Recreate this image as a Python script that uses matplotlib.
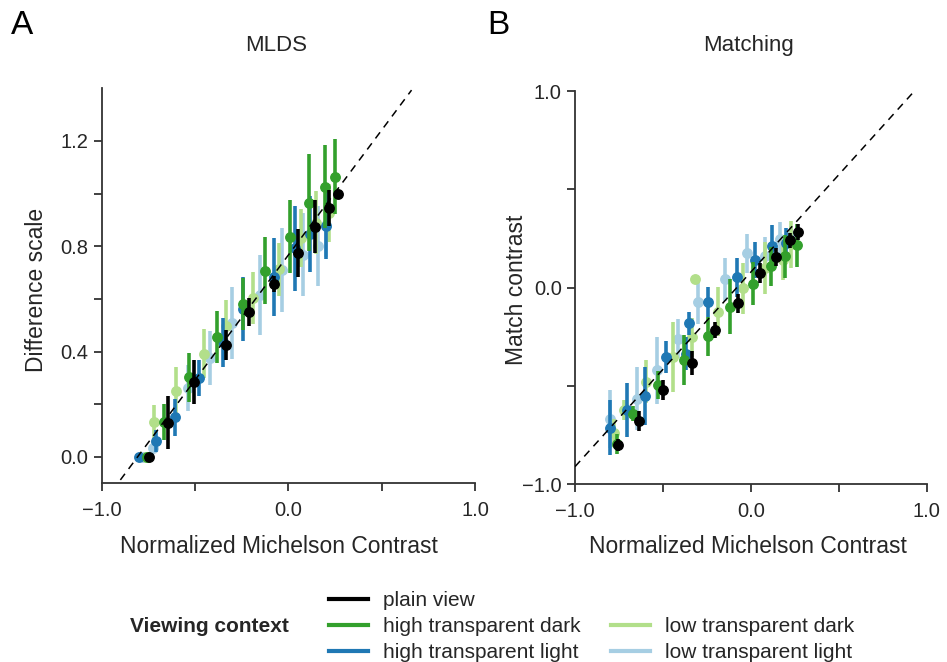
import numpy as np
import matplotlib.pyplot as plt
from matplotlib.lines import Line2D

plt.rcParams['font.family'] = ['Liberation Sans', 'DejaVu Sans']

# series names / colours
names = ['plain view', 'high transparent dark', 'high transparent light',
         'low transparent dark', 'low transparent light']
colors = ['#000000', '#33a02c', '#1f78b4', '#b2df8a', '#a6cee3']

# --- panel A: MLDS ---
a_x = {
    'plain view': [-0.745, -0.643, -0.503, -0.332, -0.209, -0.077, 0.054, 0.145, 0.22, 0.268],
    'high transparent dark': [-0.755, -0.668, -0.534, -0.384, -0.245, -0.123, 0.009, 0.109, 0.196, 0.248],
    'high transparent light': [-0.798, -0.709, -0.605, -0.48, -0.348, -0.245, -0.077, 0.037, 0.118, 0.202],
    'low transparent dark': [-0.765, -0.718, -0.602, -0.452, -0.334, -0.187, -0.048, 0.068, 0.148, 0.22],
    'low transparent light': [-0.78, -0.727, -0.539, -0.418, -0.302, -0.15, -0.034, 0.08, 0.159, 0.2],
}
a_y = {
    'plain view': [0.0, 0.13, 0.285, 0.425, 0.549, 0.658, 0.774, 0.875, 0.945, 0.998],
    'high transparent dark': [0.0, 0.133, 0.303, 0.456, 0.581, 0.707, 0.837, 0.966, 1.027, 1.065],
    'high transparent light': [0.0, 0.06, 0.151, 0.3, 0.435, 0.562, 0.683, 0.793, 0.846, 0.878],
    'low transparent dark': [0.0, 0.133, 0.25, 0.391, 0.496, 0.604, 0.713, 0.831, 0.89, 0.928],
    'low transparent light': [0.0, 0.035, 0.262, 0.376, 0.509, 0.614, 0.711, 0.768, 0.8, 0.88],
}
a_err = {
    'plain view': [0, 0.10, 0.085, 0.057, 0.053, 0.03, 0.09, 0.10, 0.067, 0],
    'high transparent dark': [0, 0.068, 0.093, 0.098, 0.1, 0.128, 0.137, 0.183, 0.157, 0.143],
    'high transparent light': [0, 0.041, 0.07, 0.07, 0.094, 0.12, 0.149, 0.161, 0.144, 0.128],
    'low transparent dark': [0, 0.063, 0.09, 0.093, 0.1, 0.1, 0.1, 0.11, 0.12, 0.11],
    'low transparent light': [0, 0.02, 0.088, 0.104, 0.136, 0.152, 0.16, 0.157, 0.152, 0.12],
}

# --- panel B: Matching ---
b_x = {
    'plain view': [-0.755, -0.637, -0.499, -0.332, -0.205, -0.076, 0.054, 0.144, 0.225, 0.27],
    'high transparent dark': [-0.76, -0.669, -0.527, -0.381, -0.243, -0.119, 0.013, 0.112, 0.195, 0.26],
    'high transparent light': [-0.802, -0.707, -0.603, -0.48, -0.37, -0.351, -0.243, -0.078, 0.025, 0.121, 0.199],
    'low transparent dark': [-0.777, -0.72, -0.599, -0.445, -0.334, -0.318, -0.186, -0.047, 0.08, 0.18, 0.23],
    'low transparent light': [-0.802, -0.65, -0.533, -0.417, -0.303, -0.148, -0.024, 0.08, 0.165, 0.23],
}
b_y = {
    'plain view': [-0.80, -0.678, -0.522, -0.383, -0.216, -0.08, 0.075, 0.157, 0.24, 0.284],
    'high transparent dark': [-0.796, -0.64, -0.496, -0.369, -0.247, -0.098, 0.021, 0.109, 0.16, 0.216],
    'high transparent light': [-0.712, -0.623, -0.552, -0.352, -0.335, -0.182, -0.072, 0.052, 0.14, 0.211, 0.225],
    'low transparent dark': [-0.74, -0.623, -0.479, -0.352, -0.253, 0.042, -0.123, -0.004, 0.1, 0.14, 0.22],
    'low transparent light': [-0.669, -0.564, -0.42, -0.259, -0.072, 0.043, 0.174, 0.16, 0.25, 0.265],
}
b_err = {
    'plain view': [0.03, 0.05, 0.05, 0.06, 0.04, 0.05, 0.05, 0.045, 0.04, 0.04],
    'high transparent dark': [0.05, 0.04, 0.07, 0.127, 0.098, 0.14, 0.11, 0.1, 0.11, 0.11],
    'high transparent light': [0.14, 0.136, 0.148, 0.082, 0.085, 0.06, 0.075, 0.1, 0.09, 0.11, 0.08],
    'low transparent dark': [0.07, 0.05, 0.11, 0.178, 0.1, 0.0, 0.125, 0.13, 0.13, 0.1, 0.12],
    'low transparent light': [0.148, 0.16, 0.17, 0.1, 0.115, 0.11, 0.1, 0.1, 0.085, 0.05],
}

txt = '#262626'
fig = plt.figure(figsize=(9.47, 6.62), dpi=100)
axA = fig.add_axes([0.1074, 0.270, 0.3942, 0.5966])
axB = fig.add_axes([0.6072, 0.2684, 0.3714, 0.5941])

draw_order = [4, 3, 2, 1, 0]


def style(ax):
    for s in ['top', 'right']:
        ax.spines[s].set_visible(False)
    for s in ['left', 'bottom']:
        ax.spines[s].set_color('#333333')
        ax.spines[s].set_linewidth(1.3)
    ax.tick_params(which='both', direction='out', length=6, width=1.3,
                   color='#333333', labelcolor=txt, labelsize=14.5)
    ax.tick_params(axis='x', pad=7)


for i in draw_order:
    n = names[i]
    axA.errorbar(a_x[n], a_y[n], yerr=a_err[n], fmt='o', color=colors[i],
                 ms=6.8, elinewidth=2.6, capsize=0, zorder=2 + (4 - i))
    axB.errorbar(b_x[n], b_y[n], yerr=b_err[n], fmt='o', color=colors[i],
                 ms=6.8, elinewidth=2.6, capsize=0, zorder=2 + (4 - i))

axA.plot([-0.9, 0.66], [0.949 * (-0.9 + 0.808), 0.949 * (0.66 + 0.808)],
         color='k', lw=1.1, dashes=(5, 4), zorder=10)
axB.plot([-1.0, 0.93], [-0.91, 1.0], color='k', lw=1.1, dashes=(5, 4), zorder=10)

axA.set_xlim(-1, 1)
axA.set_ylim(-0.1, 1.4)
axA.set_xticks([-1.0, -0.5, 0.0, 0.5, 1.0])
axA.set_xticklabels(['\u22121.0', '', '0.0', '', '1.0'])
axA.set_yticks([0.0, 0.2, 0.4, 0.6, 0.8, 1.0, 1.2])
axA.set_yticklabels(['0.0', '', '0.4', '', '0.8', '', '1.2'])
style(axA)

axB.set_xlim(-1, 1)
axB.set_ylim(-1, 1)
axB.set_xticks([-1.0, -0.5, 0.0, 0.5, 1.0])
axB.set_xticklabels(['\u22121.0', '', '0.0', '', '1.0'])
axB.set_yticks([-1.0, -0.5, 0.0, 0.5, 1.0])
axB.set_yticklabels(['\u22121.0', '', '0.0', '', '1.0'])
style(axB)

fig.text(0.012, 0.985, 'A', fontsize=24, color='k', va='top')
fig.text(0.514, 0.985, 'B', fontsize=24, color='k', va='top')
fig.text(0.2914, 0.932, 'MLDS', fontsize=16, color=txt, ha='center', va='center')
fig.text(0.790, 0.932, 'Matching', fontsize=16, color=txt, ha='center', va='center')
fig.text(0.2946, 0.175, 'Normalized Michelson Contrast', fontsize=16.5, color=txt,
         ha='center', va='center')
fig.text(0.790, 0.175, 'Normalized Michelson Contrast', fontsize=16.5, color=txt,
         ha='center', va='center')
fig.text(0.039, 0.562, 'Difference scale', fontsize=16.5, color=txt, rotation=90,
         ha='center', va='center')
fig.text(0.545, 0.562, 'Match contrast', fontsize=16.5, color=txt, rotation=90,
         ha='center', va='center')

fig.text(0.137, 0.054, 'Viewing context', fontsize=15, fontweight='bold', color=txt,
         ha='left', va='center')

handles = [Line2D([], [], color=colors[0], lw=3),
           Line2D([], [], color=colors[1], lw=3),
           Line2D([], [], color=colors[2], lw=3),
           Line2D([], [], color='none', lw=3),
           Line2D([], [], color=colors[3], lw=3),
           Line2D([], [], color=colors[4], lw=3)]
labels = [names[0], names[1], names[2], '', names[3], names[4]]
leg = fig.legend(handles, labels, ncol=2, frameon=False, loc='upper left',
                 bbox_to_anchor=(0.347, 0.107), borderaxespad=0, borderpad=0,
                 fontsize=15, handlelength=1.9, handletextpad=0.7,
                 columnspacing=1.45, labelspacing=0.34)
for t in leg.get_texts():
    t.set_color(txt)

fig.savefig('out.png', dpi=100)
